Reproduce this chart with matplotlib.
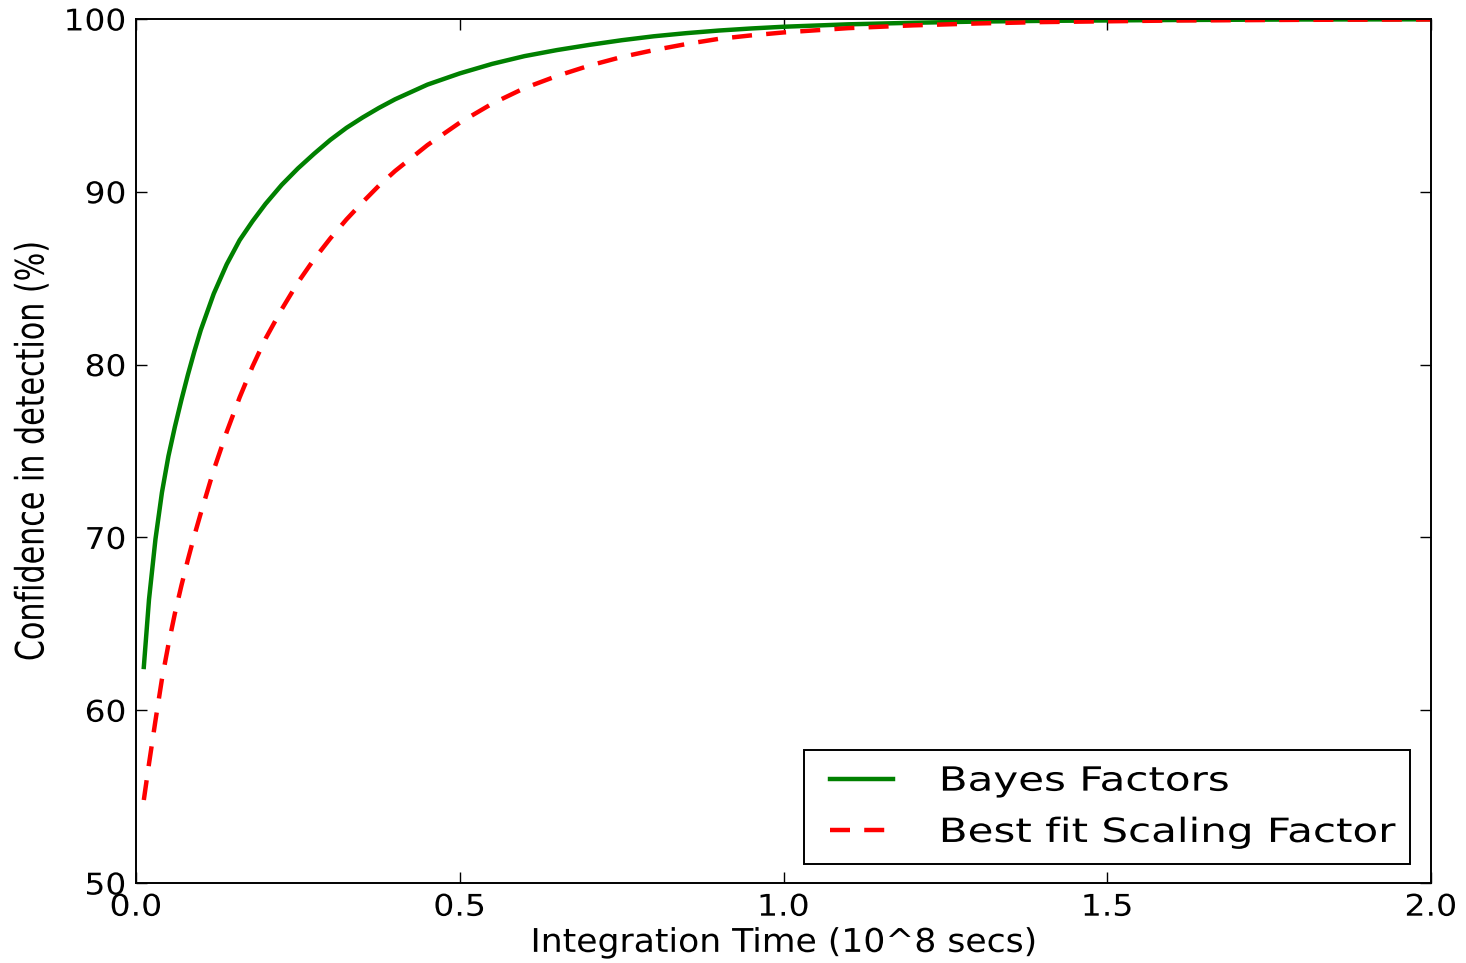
import matplotlib
matplotlib.use("Agg")
import matplotlib.pyplot as plt
from matplotlib.patheffects import AbstractPathEffect
from matplotlib.transforms import Affine2D
from matplotlib.lines import Line2D
from matplotlib.legend_handler import HandlerLine2D

# integration time in units of 10^8 secs
time = [0.012, 0.02, 0.03, 0.04, 0.05, 0.06, 0.07, 0.08, 0.09, 0.10,
        0.12, 0.14, 0.16, 0.18, 0.20, 0.225, 0.25, 0.275, 0.30, 0.325,
        0.35, 0.375, 0.40, 0.45, 0.50, 0.55, 0.60, 0.65, 0.70, 0.75,
        0.80, 0.85, 0.90, 0.95, 1.00, 1.10, 1.20, 1.30, 1.40, 1.60,
        1.80, 2.00]

bayes_factors = [62.5, 66.4, 69.9, 72.6, 74.7, 76.4, 77.95, 79.4, 80.75, 82.0,
                 84.1, 85.8, 87.2, 88.3, 89.3, 90.4, 91.35, 92.2, 93.0, 93.7,
                 94.3, 94.85, 95.35, 96.2, 96.85, 97.4, 97.85, 98.2, 98.5, 98.77,
                 99.0, 99.18, 99.33, 99.45, 99.55, 99.69, 99.78, 99.85, 99.89, 99.94,
                 99.97, 99.98]

best_fit_scaling = [54.8, 56.9, 59.4, 61.8, 63.8, 65.6, 67.2, 68.7, 70.1, 71.4,
                    73.9, 76.1, 78.1, 79.9, 81.5, 83.2, 84.75, 86.1, 87.3, 88.4,
                    89.4, 90.35, 91.2, 92.7, 94.0, 95.1, 96.0, 96.7, 97.3, 97.8,
                    98.2, 98.55, 98.85, 99.05, 99.22, 99.47, 99.63, 99.74, 99.82, 99.91,
                    99.95, 99.97]


class Stretch(AbstractPathEffect):
    # widen glyphs around an anchor (the reference text looks stretched)
    def __init__(self, sx=1.0, sy=1.0, anchor=0.5):
        super().__init__()
        self.sx, self.sy, self.anchor = sx, sy, anchor

    def draw_path(self, renderer, gc, tpath, affine, rgbFace=None):
        ext = tpath.get_extents()
        cx = ext.x0 + self.anchor * ext.width
        cy = ext.y0 + 0.5 * ext.height
        t = Affine2D().translate(-cx, -cy).scale(self.sx, self.sy).translate(cx, cy) + affine
        renderer.draw_path(gc, tpath, t, rgbFace)


fig = plt.figure(figsize=(14.66, 9.63), dpi=100)
ax = fig.add_axes([0.0928, 0.0831, 0.8833, 0.8972])

ax.plot(time, bayes_factors, color="green", linewidth=3.2, label="Bayes Factors")
ax.plot(time, best_fit_scaling, color="red", linewidth=3.2, linestyle="--",
        dashes=(4.5, 3.2), label="Best fit Scaling Factor")

ax.set_xlim(0, 2.0)
ax.set_ylim(50, 100)
ax.set_xticks([0.0, 0.5, 1.0, 1.5, 2.0])
ax.set_yticks([50, 60, 70, 80, 90, 100])
ax.tick_params(direction="in", top=True, right=True, length=8, width=1,
               labelsize=21.5, pad=7)
for s in ax.spines.values():
    s.set_linewidth(1.4)
plt.setp(ax.get_xticklabels(), path_effects=[Stretch(sx=1.11, anchor=0.5)])
plt.setp(ax.get_yticklabels(), path_effects=[Stretch(sx=1.1, anchor=1.0)])

ax.set_xlabel("Integration Time (10^8 secs)", fontsize=23.5, labelpad=3,
              path_effects=[Stretch(sx=1.06, anchor=0.5)])
ax.set_ylabel("Confidence in detection (%)", fontsize=21.7,
              path_effects=[Stretch(sy=1.3)])
ax.yaxis.set_label_coords(-0.069, 0.5)

leg = ax.legend(loc="lower left", bbox_to_anchor=(0.5158, 0.022, 0.468, 0.13),
                mode="expand", borderaxespad=0, fontsize=24, fancybox=False,
                framealpha=1, edgecolor="black", handlelength=2.22,
                handletextpad=1.4, borderpad=0.45, labelspacing=0.55,
                handler_map={Line2D: HandlerLine2D(xpad=0.33)})
leg.get_frame().set_linewidth(1.4)
for t in leg.get_texts():
    t.set_path_effects([Stretch(sx=1.26, anchor=0.0)])

plt.savefig("out.png", dpi=100)
